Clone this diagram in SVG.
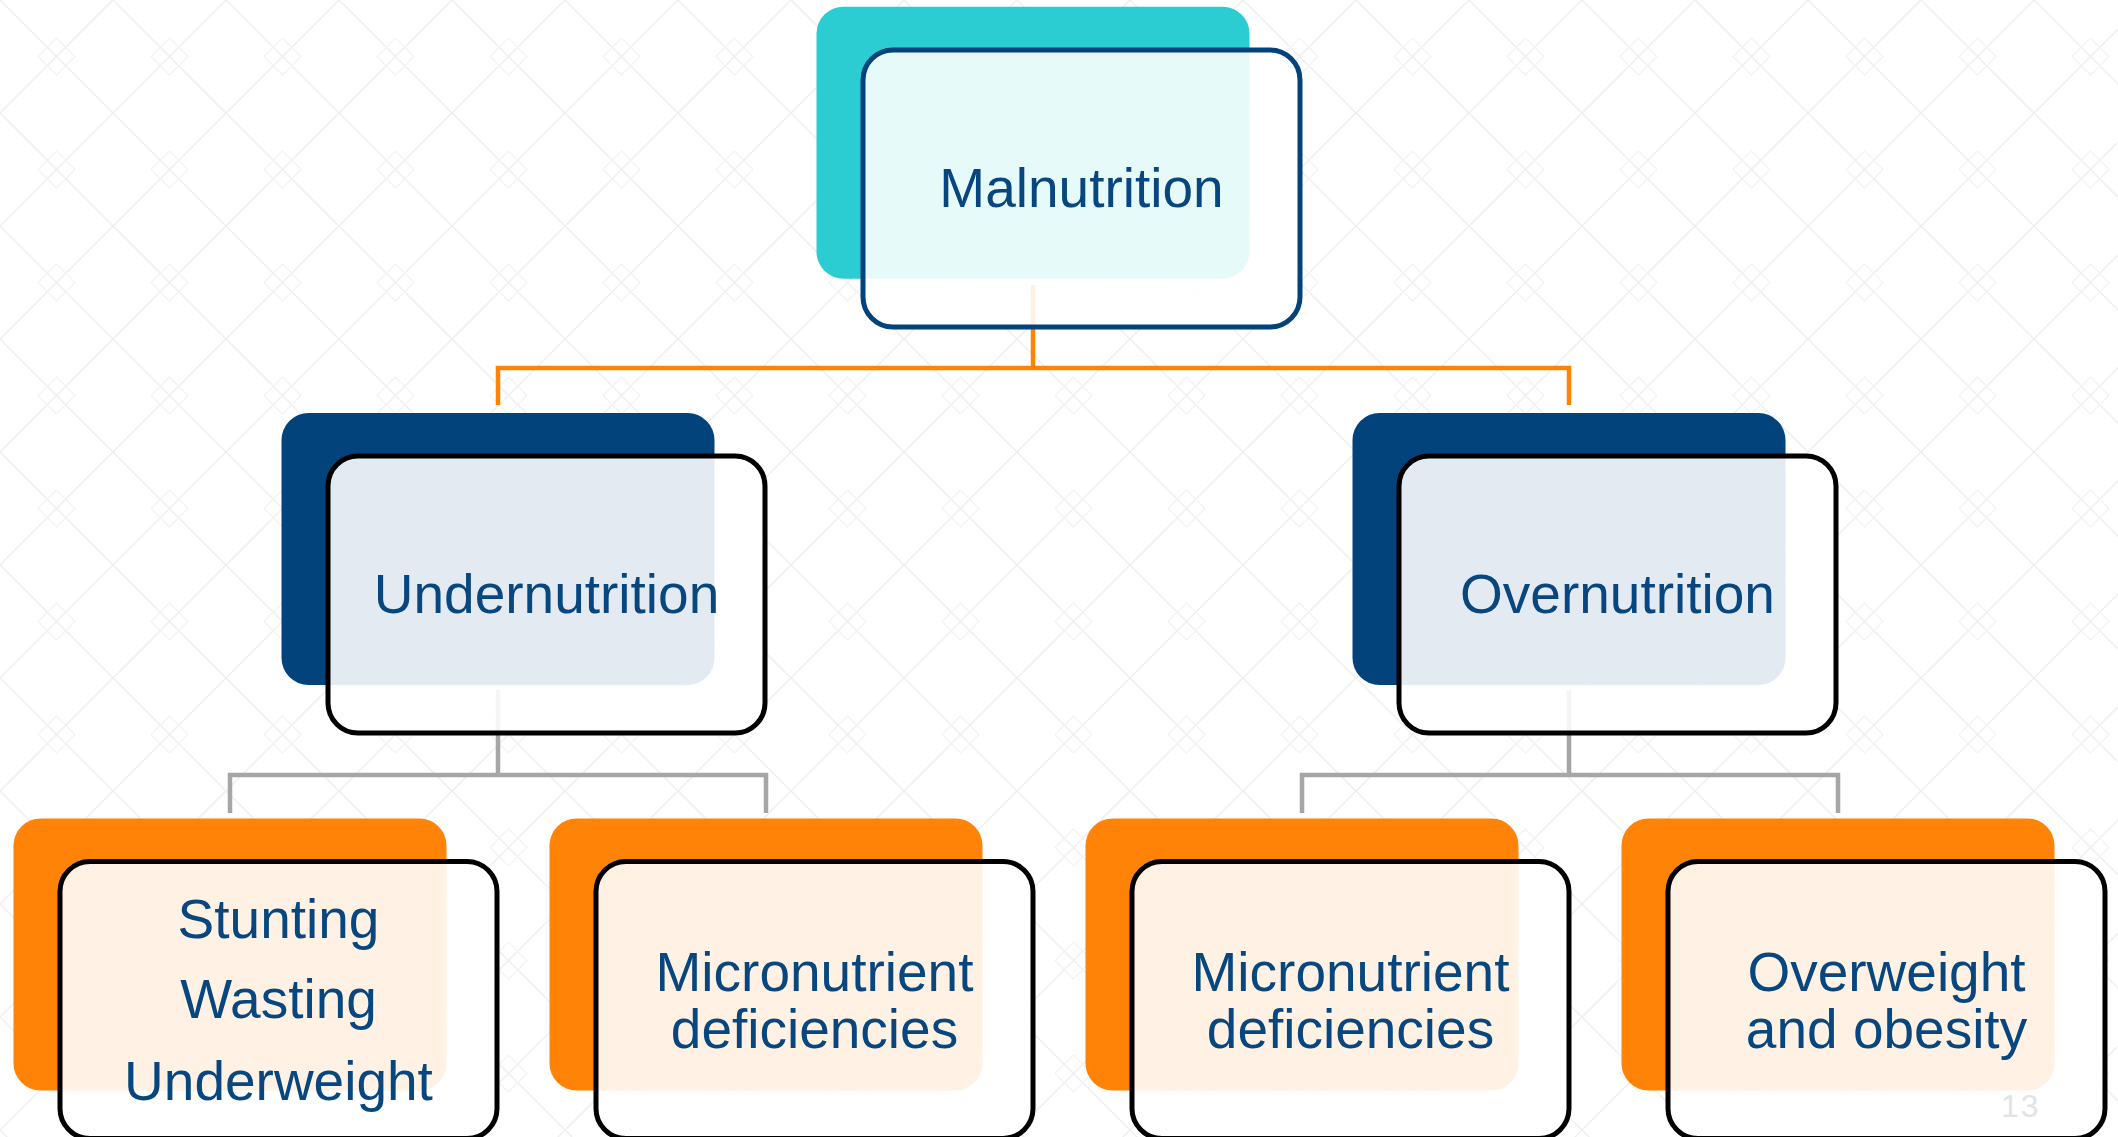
<svg xmlns="http://www.w3.org/2000/svg" width="2118" height="1137" viewBox="0 0 2118 1137">
  <defs>
    <!-- faint diamond lattice behind the chart -->
    <pattern id="lattice" width="113" height="113" patternUnits="userSpaceOnUse">
      <path d="M0,0 L113,113 M113,0 L0,113" stroke="#efefef" stroke-width="1.5" fill="none"/>
      <path d="M56.5,38 L75,56.5 L56.5,75 L38,56.5 Z" stroke="#f4f4f4" stroke-width="1.3" fill="none"/>
    </pattern>
    <style>
      .back { stroke: none; }
      .teal { fill: #2ccdd2; }
      .navy { fill: #02437c; }
      .orange { fill: #ff8307; }
      .front { fill: #ffffff; fill-opacity: 0.89; stroke: #000000; stroke-width: 5; }
      .front.top { stroke: #02437c; }
      .label { font-family: "Liberation Sans", Arial, sans-serif; font-size: 55px; fill: #07467e; text-anchor: middle; }
      .link-orange { fill: none; stroke: #ff8307; stroke-width: 4.5; }
      .link-gray { fill: none; stroke: #a6a6a6; stroke-width: 4.5; }
      .pageno { font-family: "Liberation Sans", Arial, sans-serif; font-size: 32px; letter-spacing: 2px; fill: #e3e3e3; }
    </style>
  </defs>

  <rect width="2118" height="1137" fill="#ffffff"/>
  <rect width="2118" height="1137" fill="url(#lattice)"/>

  <g id="connectors">
    <path class="link-orange" d="M1033,285 V368"/>
    <path class="link-orange" d="M498,405 V368 H1569 V405"/>
    <path class="link-gray" d="M498,690 V775"/>
    <path class="link-gray" d="M230,813 V775 H766 V813"/>
    <path class="link-gray" d="M1569,690 V775"/>
    <path class="link-gray" d="M1302,813 V775 H1838 V813"/>
  </g>

  <g id="malnutrition">
    <rect class="back teal" x="816.5" y="6.7" width="433" height="272" rx="27"/>
    <rect class="front top" x="863" y="50" width="437" height="277" rx="30"/>
    <text class="label" x="1081.5" y="207">Malnutrition</text>
  </g>

  <g id="undernutrition">
    <rect class="back navy" x="281.5" y="413" width="433" height="272" rx="27"/>
    <rect class="front" x="328" y="456" width="437" height="277" rx="30"/>
    <text class="label" x="546.5" y="612.5">Undernutrition</text>
  </g>

  <g id="overnutrition">
    <rect class="back navy" x="1352.5" y="413" width="433" height="272" rx="27"/>
    <rect class="front" x="1399" y="456" width="437" height="277" rx="30"/>
    <text class="label" x="1617.5" y="612.5">Overnutrition</text>
  </g>

  <g id="stunting-wasting-underweight">
    <rect class="back orange" x="13.5" y="818.5" width="433" height="272" rx="27"/>
    <rect class="front" x="60" y="861.5" width="437" height="277" rx="30"/>
    <text class="label" x="278.5" y="938.3">Stunting</text>
    <text class="label" x="278.5" y="1018.3">Wasting</text>
    <text class="label" x="278.5" y="1100">Underweight</text>
  </g>

  <g id="micronutrient-under">
    <rect class="back orange" x="549.5" y="818.5" width="433" height="272" rx="27"/>
    <rect class="front" x="596" y="861.5" width="437" height="277" rx="30"/>
    <text class="label" x="814.5" y="990.7">Micronutrient</text>
    <text class="label" x="814.5" y="1048.3">deficiencies</text>
  </g>

  <g id="micronutrient-over">
    <rect class="back orange" x="1085.5" y="818.5" width="433" height="272" rx="27"/>
    <rect class="front" x="1132" y="861.5" width="437" height="277" rx="30"/>
    <text class="label" x="1350.5" y="990.7">Micronutrient</text>
    <text class="label" x="1350.5" y="1048.3">deficiencies</text>
  </g>

  <g id="overweight-obesity">
    <rect class="back orange" x="1621.5" y="818.5" width="433" height="272" rx="27"/>
    <rect class="front" x="1668" y="861.5" width="437" height="277" rx="30"/>
    <text class="label" x="1886.5" y="990.7">Overweight</text>
    <text class="label" x="1886.5" y="1048.3">and obesity</text>
  </g>

  <!-- slide number -->
  <text class="pageno" x="2001" y="1117">13</text>
</svg>
